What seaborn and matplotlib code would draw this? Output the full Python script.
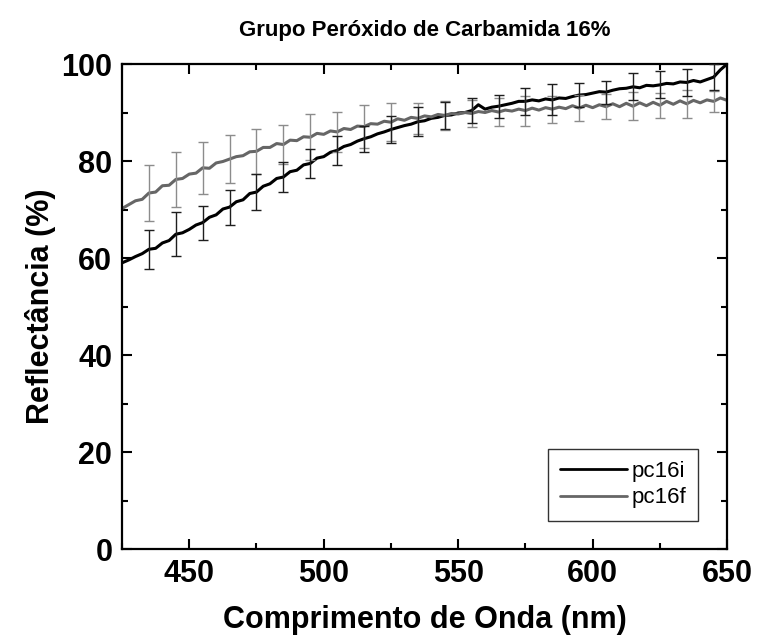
import matplotlib
matplotlib.use("Agg")
import matplotlib.pyplot as plt
import numpy as np
import pandas as pd
import seaborn as sns
from matplotlib.ticker import MultipleLocator

# wavelength grid of the spectra (nm)
wavelength = np.arange(425, 650.1, 2.5)

# reflectance before (pc16i) and after (pc16f)
pc16i = [59.0, 59.6, 60.3, 60.9, 61.8, 62.0, 63.1, 63.6, 64.9, 65.2,
         65.9, 66.8, 67.3, 68.4, 68.9, 70.1, 70.5, 71.6, 72.0, 73.3,
         73.6, 74.8, 75.3, 76.4, 76.7, 77.8, 78.1, 79.2, 79.5, 80.6,
         80.9, 81.8, 82.2, 83.0, 83.4, 84.1, 84.6, 85.0, 85.6, 86.0,
         86.5, 86.9, 87.3, 87.6, 88.1, 88.3, 88.8, 89.0, 89.4, 89.5,
         89.9, 90.0, 90.4, 91.6, 90.7, 91.1, 91.3, 91.6, 91.9, 92.3,
         92.3, 92.6, 92.4, 92.8, 92.6, 93.0, 92.9, 93.3, 93.6, 93.7,
         94.0, 94.3, 94.2, 94.6, 94.9, 95.0, 95.3, 95.1, 95.6, 95.5,
         95.7, 96.0, 95.9, 96.3, 96.2, 96.6, 96.3, 96.8, 97.3, 98.8,
         100.0]
pc16f = [70.2, 71.0, 71.8, 72.1, 73.4, 73.6, 74.9, 75.0, 76.2, 76.4,
         77.3, 77.5, 78.6, 78.5, 79.6, 79.9, 80.4, 80.9, 81.1, 81.9,
         82.0, 82.8, 82.8, 83.6, 83.4, 84.3, 84.2, 85.0, 84.9, 85.7,
         85.5, 86.2, 86.0, 86.7, 86.5, 87.2, 87.1, 87.7, 87.6, 88.2,
         88.0, 88.7, 88.4, 89.0, 88.8, 89.3, 89.1, 89.6, 89.4, 89.8,
         89.7, 90.0, 89.8, 90.2, 90.0, 90.4, 90.1, 90.5, 90.3, 90.7,
         90.4, 90.9, 90.5, 91.0, 90.7, 91.1, 90.8, 91.4, 90.9, 91.5,
         91.0, 91.6, 91.2, 91.8, 91.2, 91.9, 91.3, 92.0, 91.4, 92.1,
         91.5, 92.3, 91.7, 92.4, 91.8, 92.5, 92.0, 92.6, 92.3, 93.0,
         92.5]

# error bars every 10 nm
err_wl = [435, 445, 455, 465, 475, 485, 495, 505, 515, 525, 535,
          545, 555, 565, 575, 585, 595, 605, 615, 625, 635, 645]
err_i = [4.0, 4.5, 3.5, 3.6, 3.7, 3.1, 3.0, 3.0, 2.7, 2.7, 3.0,
         2.7, 2.6, 2.4, 2.8, 3.2, 2.5, 2.4, 2.8, 2.8, 2.7, 2.6]
err_f = [5.7, 5.7, 5.4, 5.0, 4.6, 4.0, 4.7, 4.1, 4.5, 3.9, 3.2,
         3.0, 2.8, 2.9, 3.1, 2.8, 2.7, 2.6, 2.9, 2.6, 2.9, 2.2]

df = pd.DataFrame({"wl": wavelength, "pc16i": pc16i, "pc16f": pc16f})
long_df = df.melt(id_vars="wl", var_name="amostra", value_name="refl")

sns.set_style("ticks")
plt.rcParams["font.family"] = ["Liberation Sans", "DejaVu Sans"]
plt.rcParams.update({"text.color": "black", "axes.labelcolor": "black",
                     "xtick.color": "black", "ytick.color": "black"})

fig = plt.figure(figsize=(7.57, 6.44), dpi=100)
ax = fig.add_axes([0.1612, 0.1475, 0.7993, 0.7531])

cols = {"pc16i": "#000000", "pc16f": "#666666"}
ecols = {"pc16i": "#1e1e1e", "pc16f": "#8c8c8c"}
sns.lineplot(data=long_df, x="wl", y="refl", hue="amostra",
             palette=cols, linewidth=2.2, ax=ax, legend=False)

pts = df.set_index("wl")
for name, errs in [("pc16f", err_f), ("pc16i", err_i)]:
    ax.errorbar(err_wl, pts.loc[err_wl, name], yerr=errs, fmt="none",
                ecolor=ecols[name], elinewidth=1.0, capsize=3.4,
                capthick=1.0, zorder=3)

ax.set_xlim(425, 650)
ax.set_ylim(0, 100)
ax.xaxis.set_major_locator(MultipleLocator(50))
ax.xaxis.set_minor_locator(MultipleLocator(25))
ax.yaxis.set_major_locator(MultipleLocator(20))
ax.yaxis.set_minor_locator(MultipleLocator(10))
ax.tick_params(which="both", direction="in", top=True, right=True,
               width=1.5, color="black", labelcolor="black")
ax.tick_params(which="major", length=7, labelsize=22, pad=7)
ax.tick_params(which="minor", length=4)
for lab in ax.get_xticklabels() + ax.get_yticklabels():
    lab.set_fontweight("bold")
for sp in ax.spines.values():
    sp.set_linewidth(1.6)
    sp.set_color("black")

ax.set_xlabel("Comprimento de Onda (nm)", fontsize=22, fontweight="bold",
              labelpad=12)
ax.set_ylabel("Reflectância (%)", fontsize=22, fontweight="bold",
              labelpad=4)
ax.set_title("Grupo Peróxido de Carbamida 16%", fontsize=16,
             fontweight="bold", pad=20)

handles = [plt.Line2D([], [], color=cols[k], linewidth=2) for k in ["pc16i", "pc16f"]]
leg = ax.legend(handles, ["pc16i", "pc16f"], loc="lower right",
                bbox_to_anchor=(0.9526, 0.0584), borderaxespad=0,
                frameon=True, fancybox=False, fontsize=16,
                handlelength=3.0, handletextpad=0.2, labelspacing=0.25,
                borderpad=0.55)
leg.get_frame().set_edgecolor("black")
leg.get_frame().set_linewidth(1.0)

fig.savefig("out.png", dpi=100)
